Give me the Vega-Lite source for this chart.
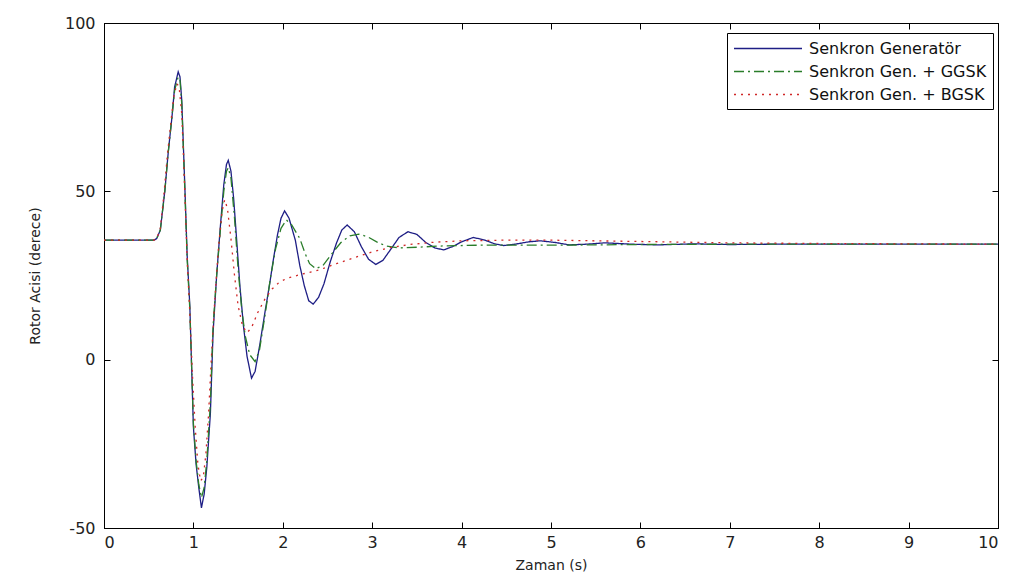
{
"$schema": "https://vega.github.io/schema/vega-lite/v6.json",
"width": 894, "height": 505,
"autosize": "none",
"padding": {"left": 104, "top": 23, "right": 20, "bottom": 54},
"background": "white",
"config": {
  "view": {"stroke": "black", "strokeWidth": 1},
  "font": "DejaVu Sans",
  "axis": {"grid": false, "domainColor": "black", "tickColor": "black", "labelColor": "#222", "titleColor": "#222", "labelFont": "DejaVu Sans", "labelFontSize": 16, "tickSize": -6, "titleFont": "DejaVu Sans", "titleFontSize": 14, "titleFontWeight": "normal"}
},
"data": {"values": [
{"s":"Senkron Generatör","t":0,"v":35.5},{"s":"Senkron Generatör","t":0.56,"v":35.5},{"s":"Senkron Generatör","t":0.59,"v":36},{"s":"Senkron Generatör","t":0.63,"v":38.5},{"s":"Senkron Generatör","t":0.68,"v":50},{"s":"Senkron Generatör","t":0.72,"v":62},{"s":"Senkron Generatör","t":0.76,"v":72},{"s":"Senkron Generatör","t":0.79,"v":81},{"s":"Senkron Generatör","t":0.83,"v":85.5},{"s":"Senkron Generatör","t":0.85,"v":84},{"s":"Senkron Generatör","t":0.87,"v":77},{"s":"Senkron Generatör","t":0.89,"v":62},{"s":"Senkron Generatör","t":0.91,"v":47},{"s":"Senkron Generatör","t":0.93,"v":31},{"s":"Senkron Generatör","t":0.96,"v":16},{"s":"Senkron Generatör","t":0.98,"v":-2},{"s":"Senkron Generatör","t":1.0,"v":-20},{"s":"Senkron Generatör","t":1.03,"v":-31},{"s":"Senkron Generatör","t":1.06,"v":-38},{"s":"Senkron Generatör","t":1.09,"v":-44},{"s":"Senkron Generatör","t":1.12,"v":-40},{"s":"Senkron Generatör","t":1.15,"v":-32},{"s":"Senkron Generatör","t":1.19,"v":-16},{"s":"Senkron Generatör","t":1.22,"v":8},{"s":"Senkron Generatör","t":1.26,"v":25},{"s":"Senkron Generatör","t":1.30,"v":39},{"s":"Senkron Generatör","t":1.34,"v":52},{"s":"Senkron Generatör","t":1.37,"v":58},{"s":"Senkron Generatör","t":1.39,"v":59.2},{"s":"Senkron Generatör","t":1.42,"v":56},{"s":"Senkron Generatör","t":1.45,"v":48},{"s":"Senkron Generatör","t":1.48,"v":37},{"s":"Senkron Generatör","t":1.52,"v":22},{"s":"Senkron Generatör","t":1.56,"v":10},{"s":"Senkron Generatör","t":1.60,"v":1},{"s":"Senkron Generatör","t":1.65,"v":-5.5},{"s":"Senkron Generatör","t":1.69,"v":-3.5},{"s":"Senkron Generatör","t":1.74,"v":4},{"s":"Senkron Generatör","t":1.80,"v":14},{"s":"Senkron Generatör","t":1.85,"v":22},{"s":"Senkron Generatör","t":1.89,"v":29},{"s":"Senkron Generatör","t":1.94,"v":37},{"s":"Senkron Generatör","t":1.98,"v":42},{"s":"Senkron Generatör","t":2.02,"v":44.2},{"s":"Senkron Generatör","t":2.07,"v":42},{"s":"Senkron Generatör","t":2.14,"v":35.5},{"s":"Senkron Generatör","t":2.19,"v":28},{"s":"Senkron Generatör","t":2.24,"v":22},{"s":"Senkron Generatör","t":2.29,"v":17.5},{"s":"Senkron Generatör","t":2.34,"v":16.5},{"s":"Senkron Generatör","t":2.40,"v":18.5},{"s":"Senkron Generatör","t":2.46,"v":22.5},{"s":"Senkron Generatör","t":2.53,"v":29},{"s":"Senkron Generatör","t":2.60,"v":34.6},{"s":"Senkron Generatör","t":2.66,"v":38.5},{"s":"Senkron Generatör","t":2.72,"v":40},{"s":"Senkron Generatör","t":2.80,"v":38},{"s":"Senkron Generatör","t":2.88,"v":33.5},{"s":"Senkron Generatör","t":2.96,"v":29.8},{"s":"Senkron Generatör","t":3.04,"v":28.3},{"s":"Senkron Generatör","t":3.12,"v":29.5},{"s":"Senkron Generatör","t":3.20,"v":32.5},{"s":"Senkron Generatör","t":3.30,"v":36.3},{"s":"Senkron Generatör","t":3.40,"v":38},{"s":"Senkron Generatör","t":3.50,"v":37.2},{"s":"Senkron Generatör","t":3.60,"v":34.8},{"s":"Senkron Generatör","t":3.70,"v":33.2},{"s":"Senkron Generatör","t":3.80,"v":32.6},{"s":"Senkron Generatör","t":3.90,"v":33.6},{"s":"Senkron Generatör","t":4.0,"v":35},{"s":"Senkron Generatör","t":4.13,"v":36.3},{"s":"Senkron Generatör","t":4.25,"v":35.6},{"s":"Senkron Generatör","t":4.37,"v":34.4},{"s":"Senkron Generatör","t":4.47,"v":33.9},{"s":"Senkron Generatör","t":4.60,"v":34.3},{"s":"Senkron Generatör","t":4.75,"v":35},{"s":"Senkron Generatör","t":4.88,"v":35.3},{"s":"Senkron Generatör","t":5.05,"v":34.8},{"s":"Senkron Generatör","t":5.2,"v":34.1},{"s":"Senkron Generatör","t":5.4,"v":34.3},{"s":"Senkron Generatör","t":5.6,"v":34.7},{"s":"Senkron Generatör","t":5.9,"v":34.3},{"s":"Senkron Generatör","t":6.2,"v":34.1},{"s":"Senkron Generatör","t":6.6,"v":34.4},{"s":"Senkron Generatör","t":7.0,"v":34.2},{"s":"Senkron Generatör","t":7.5,"v":34.3},{"s":"Senkron Generatör","t":8.0,"v":34.3},{"s":"Senkron Generatör","t":9.0,"v":34.3},{"s":"Senkron Generatör","t":10,"v":34.3},
{"s":"Senkron Gen. + GGSK","t":0,"v":35.5},{"s":"Senkron Gen. + GGSK","t":0.56,"v":35.5},{"s":"Senkron Gen. + GGSK","t":0.59,"v":36},{"s":"Senkron Gen. + GGSK","t":0.63,"v":38.5},{"s":"Senkron Gen. + GGSK","t":0.68,"v":50},{"s":"Senkron Gen. + GGSK","t":0.72,"v":62},{"s":"Senkron Gen. + GGSK","t":0.76,"v":72},{"s":"Senkron Gen. + GGSK","t":0.79,"v":80},{"s":"Senkron Gen. + GGSK","t":0.83,"v":84},{"s":"Senkron Gen. + GGSK","t":0.85,"v":83},{"s":"Senkron Gen. + GGSK","t":0.87,"v":76},{"s":"Senkron Gen. + GGSK","t":0.89,"v":61},{"s":"Senkron Gen. + GGSK","t":0.91,"v":46},{"s":"Senkron Gen. + GGSK","t":0.93,"v":30},{"s":"Senkron Gen. + GGSK","t":0.96,"v":15},{"s":"Senkron Gen. + GGSK","t":0.98,"v":-2},{"s":"Senkron Gen. + GGSK","t":1.0,"v":-19},{"s":"Senkron Gen. + GGSK","t":1.03,"v":-30},{"s":"Senkron Gen. + GGSK","t":1.06,"v":-37},{"s":"Senkron Gen. + GGSK","t":1.09,"v":-41},{"s":"Senkron Gen. + GGSK","t":1.12,"v":-38},{"s":"Senkron Gen. + GGSK","t":1.15,"v":-30},{"s":"Senkron Gen. + GGSK","t":1.19,"v":-13},{"s":"Senkron Gen. + GGSK","t":1.22,"v":10},{"s":"Senkron Gen. + GGSK","t":1.26,"v":25},{"s":"Senkron Gen. + GGSK","t":1.30,"v":38},{"s":"Senkron Gen. + GGSK","t":1.34,"v":50},{"s":"Senkron Gen. + GGSK","t":1.37,"v":56},{"s":"Senkron Gen. + GGSK","t":1.39,"v":57},{"s":"Senkron Gen. + GGSK","t":1.42,"v":54},{"s":"Senkron Gen. + GGSK","t":1.46,"v":42},{"s":"Senkron Gen. + GGSK","t":1.50,"v":27},{"s":"Senkron Gen. + GGSK","t":1.54,"v":15},{"s":"Senkron Gen. + GGSK","t":1.58,"v":7},{"s":"Senkron Gen. + GGSK","t":1.63,"v":1.5},{"s":"Senkron Gen. + GGSK","t":1.69,"v":-0.6},{"s":"Senkron Gen. + GGSK","t":1.74,"v":3},{"s":"Senkron Gen. + GGSK","t":1.80,"v":13},{"s":"Senkron Gen. + GGSK","t":1.86,"v":24},{"s":"Senkron Gen. + GGSK","t":1.92,"v":33},{"s":"Senkron Gen. + GGSK","t":1.98,"v":39},{"s":"Senkron Gen. + GGSK","t":2.04,"v":41.5},{"s":"Senkron Gen. + GGSK","t":2.10,"v":40},{"s":"Senkron Gen. + GGSK","t":2.19,"v":36},{"s":"Senkron Gen. + GGSK","t":2.25,"v":31.5},{"s":"Senkron Gen. + GGSK","t":2.30,"v":28.5},{"s":"Senkron Gen. + GGSK","t":2.37,"v":27},{"s":"Senkron Gen. + GGSK","t":2.45,"v":28},{"s":"Senkron Gen. + GGSK","t":2.55,"v":31.5},{"s":"Senkron Gen. + GGSK","t":2.65,"v":34.8},{"s":"Senkron Gen. + GGSK","t":2.75,"v":36.8},{"s":"Senkron Gen. + GGSK","t":2.85,"v":37.3},{"s":"Senkron Gen. + GGSK","t":2.95,"v":36.5},{"s":"Senkron Gen. + GGSK","t":3.05,"v":35},{"s":"Senkron Gen. + GGSK","t":3.15,"v":33.8},{"s":"Senkron Gen. + GGSK","t":3.3,"v":33.2},{"s":"Senkron Gen. + GGSK","t":3.5,"v":33.4},{"s":"Senkron Gen. + GGSK","t":3.8,"v":33.8},{"s":"Senkron Gen. + GGSK","t":4.2,"v":34},{"s":"Senkron Gen. + GGSK","t":5,"v":34},{"s":"Senkron Gen. + GGSK","t":6,"v":34.2},{"s":"Senkron Gen. + GGSK","t":7,"v":34.3},{"s":"Senkron Gen. + GGSK","t":10,"v":34.3},
{"s":"Senkron Gen. + BGSK","t":0,"v":35.5},{"s":"Senkron Gen. + BGSK","t":0.56,"v":35.5},{"s":"Senkron Gen. + BGSK","t":0.59,"v":36},{"s":"Senkron Gen. + BGSK","t":0.63,"v":39},{"s":"Senkron Gen. + BGSK","t":0.67,"v":49},{"s":"Senkron Gen. + BGSK","t":0.71,"v":61},{"s":"Senkron Gen. + BGSK","t":0.75,"v":71},{"s":"Senkron Gen. + BGSK","t":0.78,"v":78},{"s":"Senkron Gen. + BGSK","t":0.815,"v":82},{"s":"Senkron Gen. + BGSK","t":0.84,"v":81},{"s":"Senkron Gen. + BGSK","t":0.87,"v":73},{"s":"Senkron Gen. + BGSK","t":0.89,"v":60},{"s":"Senkron Gen. + BGSK","t":0.91,"v":45},{"s":"Senkron Gen. + BGSK","t":0.93,"v":30},{"s":"Senkron Gen. + BGSK","t":0.96,"v":14},{"s":"Senkron Gen. + BGSK","t":0.99,"v":-5},{"s":"Senkron Gen. + BGSK","t":1.02,"v":-20},{"s":"Senkron Gen. + BGSK","t":1.05,"v":-31},{"s":"Senkron Gen. + BGSK","t":1.08,"v":-36},{"s":"Senkron Gen. + BGSK","t":1.11,"v":-35},{"s":"Senkron Gen. + BGSK","t":1.14,"v":-28},{"s":"Senkron Gen. + BGSK","t":1.17,"v":-16},{"s":"Senkron Gen. + BGSK","t":1.20,"v":0},{"s":"Senkron Gen. + BGSK","t":1.24,"v":18},{"s":"Senkron Gen. + BGSK","t":1.28,"v":33},{"s":"Senkron Gen. + BGSK","t":1.32,"v":44},{"s":"Senkron Gen. + BGSK","t":1.35,"v":47.5},{"s":"Senkron Gen. + BGSK","t":1.38,"v":45},{"s":"Senkron Gen. + BGSK","t":1.42,"v":36},{"s":"Senkron Gen. + BGSK","t":1.46,"v":25},{"s":"Senkron Gen. + BGSK","t":1.50,"v":16},{"s":"Senkron Gen. + BGSK","t":1.55,"v":10},{"s":"Senkron Gen. + BGSK","t":1.60,"v":8},{"s":"Senkron Gen. + BGSK","t":1.65,"v":9.5},{"s":"Senkron Gen. + BGSK","t":1.72,"v":14},{"s":"Senkron Gen. + BGSK","t":1.80,"v":18},{"s":"Senkron Gen. + BGSK","t":1.88,"v":21},{"s":"Senkron Gen. + BGSK","t":1.96,"v":23},{"s":"Senkron Gen. + BGSK","t":2.05,"v":24.2},{"s":"Senkron Gen. + BGSK","t":2.2,"v":25.3},{"s":"Senkron Gen. + BGSK","t":2.4,"v":26.6},{"s":"Senkron Gen. + BGSK","t":2.6,"v":28.5},{"s":"Senkron Gen. + BGSK","t":2.8,"v":30.3},{"s":"Senkron Gen. + BGSK","t":3.0,"v":32},{"s":"Senkron Gen. + BGSK","t":3.2,"v":33.3},{"s":"Senkron Gen. + BGSK","t":3.45,"v":34.3},{"s":"Senkron Gen. + BGSK","t":3.7,"v":34.9},{"s":"Senkron Gen. + BGSK","t":4.0,"v":35.3},{"s":"Senkron Gen. + BGSK","t":4.5,"v":35.5},{"s":"Senkron Gen. + BGSK","t":5.0,"v":35.5},{"s":"Senkron Gen. + BGSK","t":5.5,"v":35.3},{"s":"Senkron Gen. + BGSK","t":6.0,"v":35.1},{"s":"Senkron Gen. + BGSK","t":6.5,"v":34.9},{"s":"Senkron Gen. + BGSK","t":7.0,"v":34.7},{"s":"Senkron Gen. + BGSK","t":7.5,"v":34.6},{"s":"Senkron Gen. + BGSK","t":8.0,"v":34.5},{"s":"Senkron Gen. + BGSK","t":9.0,"v":34.4},{"s":"Senkron Gen. + BGSK","t":10,"v":34.3}
]},
"layer": [
  {
    "mark": {"type": "line", "strokeWidth": 1.3, "clip": true},
    "encoding": {
      "x": {"field": "t", "type": "quantitative", "scale": {"domain": [0, 10], "nice": false, "zero": false},
            "axis": {"values": [0,1,2,3,4,5,6,7,8,9,10], "title": "Zaman (s)", "labelPadding": 12, "titlePadding": 8}},
      "y": {"field": "v", "type": "quantitative", "scale": {"domain": [-50, 100], "nice": false},
            "axis": {"values": [-50, 0, 50, 100], "title": "Rotor Acisi (derece)", "labelPadding": 15, "titlePadding": 22, "labelExpr": "datum.value < 0 ? '-' + abs(datum.value) : datum.label"}},
      "color": {"field": "s", "type": "nominal", "title": null,
        "scale": {"domain": ["Senkron Generatör", "Senkron Gen. + GGSK", "Senkron Gen. + BGSK"], "range": ["#1e1e85", "#2a7d2a", "#d02828"]},
        "legend": {"orient": "none", "legendX": 623, "legendY": 10, "strokeColor": "black", "fillColor": "white", "padding": 6, "symbolType": "M-1,0H7", "symbolSize": 289, "symbolStrokeWidth": 1.3, "labelFontSize": 16, "labelFont": "DejaVu Sans", "labelColor": "#111", "labelOffset": 57, "rowPadding": 5, "labelLimit": 400}},
      "strokeDash": {"field": "s", "type": "nominal", "title": null,
        "scale": {"domain": ["Senkron Generatör", "Senkron Gen. + GGSK", "Senkron Gen. + BGSK"], "range": [[1, 0], [10, 4, 2, 4], [2, 5]]},
        "legend": {"orient": "none", "legendX": 623, "legendY": 10, "strokeColor": "black", "fillColor": "white", "padding": 6, "symbolType": "M-1,0H7", "symbolSize": 289, "symbolStrokeWidth": 1.3, "labelFontSize": 16, "labelFont": "DejaVu Sans", "labelColor": "#111", "labelOffset": 57, "rowPadding": 5, "labelLimit": 400}}
    }
  },
  {
    "mark": {"type": "line", "opacity": 0},
    "encoding": {
      "x": {"field": "t", "type": "quantitative", "axis": {"orient": "top", "values": [0,1,2,3,4,5,6,7,8,9,10], "labels": false, "title": null}},
      "y": {"field": "v", "type": "quantitative", "axis": {"orient": "right", "values": [-50, 0, 50, 100], "labels": false, "title": null}},
      "detail": {"field": "s"}
    }
  }
],
"resolve": {"axis": {"x": "independent", "y": "independent"}}
}
